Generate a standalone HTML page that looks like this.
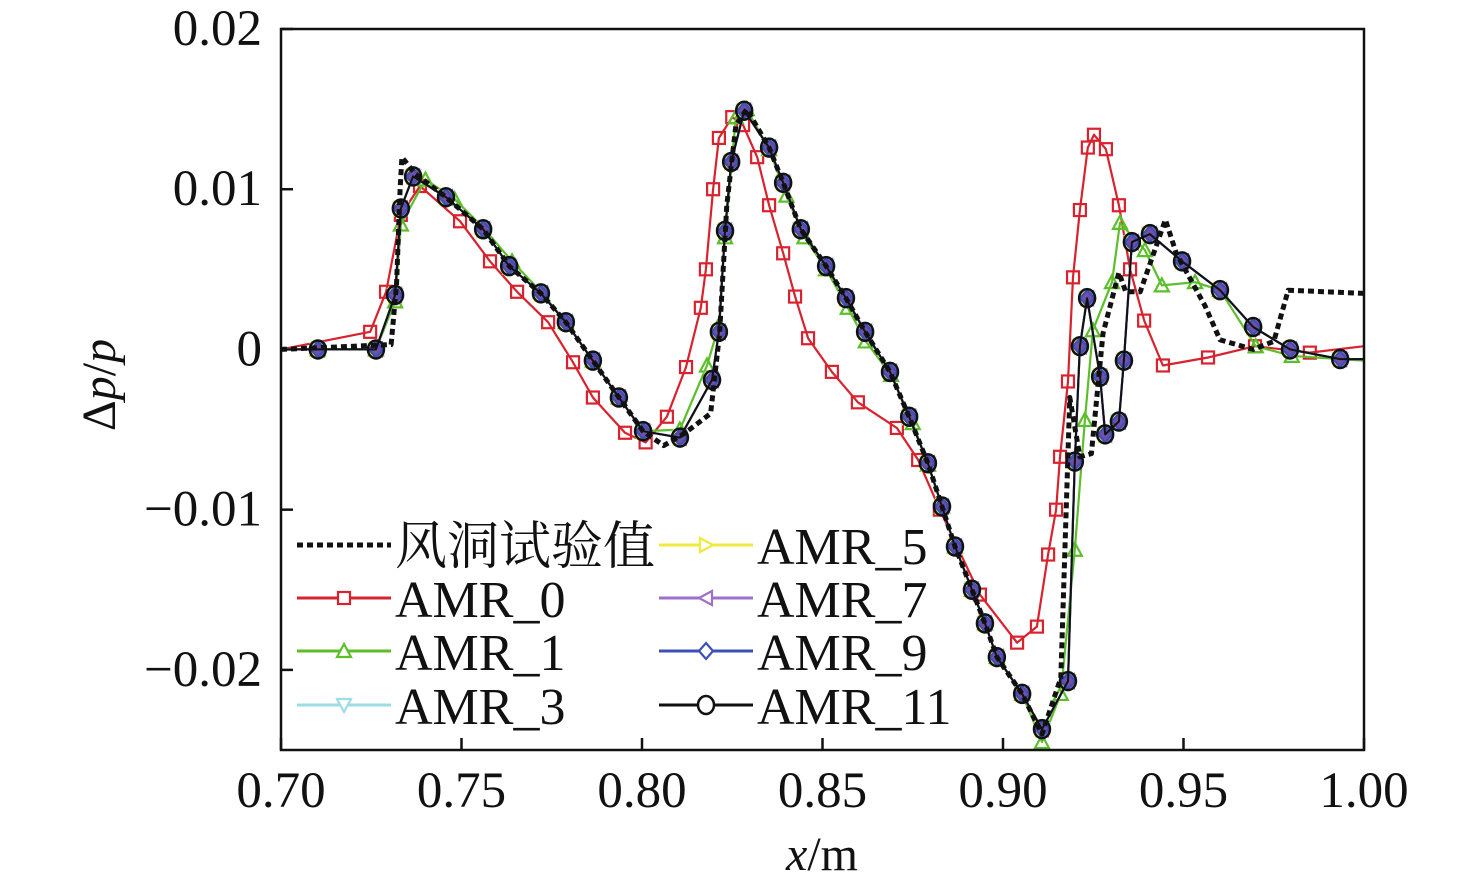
<!DOCTYPE html>
<html><head><meta charset="utf-8">
<style>
html,body{margin:0;padding:0;background:#fff;}
svg{display:block;}
text{font-family:"Liberation Serif","Noto Serif CJK SC",serif;fill:#111;}
</style></head>
<body>
<svg id="chart" width="1476" height="887" viewBox="0 0 1476 887" xmlns="http://www.w3.org/2000/svg">
<g id="grid"></g>
<g id="series"></g>
<rect x="281" y="29" width="1083" height="721" fill="none" stroke="#111" stroke-width="2.5"/>
<g id="legend"></g>
<text transform="translate(115,385) rotate(-90)" text-anchor="middle" font-size="48">Δ<tspan font-style="italic">p</tspan>/<tspan font-style="italic">p</tspan></text>
<text x="822" y="870" text-anchor="middle" font-size="48"><tspan font-style="italic">x</tspan>/m</text>
</svg>
<script>
const xTicks=[0.70,0.75,0.80,0.85,0.90,0.95,1.00];
const xTickLabels=["0.70","0.75","0.80","0.85","0.90","0.95","1.00"];
const yTicks=[0.02,0.01,0,-0.01,-0.02];
const yTickLabels=["0.02","0.01","0","\u22120.01","\u22120.02"];
const expX=[0.70,0.7305,0.7320,0.7330,0.7335,0.7370,0.7457,0.7560,0.7632,0.7720,0.7789,0.7864,0.7936,0.8003,0.806,0.8120,0.8190,0.8215,0.8235,0.8260,0.8290,0.8352,0.8391,0.8440,0.8510,0.8565,0.8618,0.8687,0.8740,0.8792,0.8831,0.8867,0.8914,0.8950,0.8983,0.9053,0.9108,0.9160,0.9185,0.9213,0.9245,0.9277,0.9321,0.9340,0.9380,0.9450,0.9480,0.9560,0.9601,0.9693,0.9750,0.9790,1.00];
const expY=[0,0.0003,0.0040,0.0100,0.0120,0.0110,0.0095,0.0075,0.0052,0.0035,0.0017,-0.0007,-0.0030,-0.0051,-0.0060,-0.0052,-0.0040,0.0010,0.0090,0.0140,0.0150,0.0126,0.0104,0.0075,0.0052,0.0032,0.0011,-0.0014,-0.0042,-0.0071,-0.0098,-0.0123,-0.0150,-0.0171,-0.0192,-0.0215,-0.0240,-0.0205,-0.0030,-0.0067,-0.0065,0.0010,0.0048,0.0036,0.0036,0.0081,0.0060,0.0027,0.0006,0.0000,0.0005,0.0037,0.0035];
const amr0X=[0.70,0.7247,0.7291,0.7332,0.7385,0.7496,0.7579,0.7654,0.7740,0.7809,0.7864,0.7953,0.8010,0.8069,0.8122,0.8163,0.8177,0.8197,0.8213,0.8250,0.8280,0.8319,0.8352,0.8391,0.8424,0.8460,0.8526,0.8598,0.8706,0.8765,0.8825,0.8936,0.9039,0.9094,0.9125,0.9147,0.9158,0.9180,0.9194,0.9213,0.9235,0.9252,0.9285,0.9321,0.9352,0.9391,0.9443,0.9568,0.9698,0.9850,1.00];
const amr0Y=[0,0.0011,0.0036,0.0084,0.0102,0.0080,0.0055,0.0036,0.0017,-0.0008,-0.0030,-0.0052,-0.0058,-0.0042,-0.0011,0.0026,0.0050,0.0100,0.0132,0.0145,0.0140,0.0120,0.0090,0.0060,0.0033,0.0007,-0.0014,-0.0033,-0.0049,-0.0069,-0.0100,-0.0153,-0.0183,-0.0173,-0.0128,-0.0100,-0.0067,-0.0020,0.0045,0.0087,0.0126,0.0134,0.0125,0.0090,0.0050,0.0018,-0.0010,-0.0005,0.0002,-0.0002,0.0002];
const amr1X=[0.70,0.7102,0.7263,0.7316,0.7332,0.7400,0.7480,0.7560,0.7640,0.7720,0.7789,0.7864,0.7936,0.8003,0.8105,0.8180,0.8213,0.8230,0.8260,0.8290,0.8352,0.8400,0.8450,0.8510,0.8570,0.8620,0.8690,0.8750,0.8792,0.8831,0.8867,0.8914,0.8950,0.8983,0.9053,0.9108,0.9160,0.9199,0.9227,0.9249,0.9302,0.9324,0.9393,0.9440,0.9532,0.9601,0.9700,0.9800,1.00];
const amr1Y=[0,0,0,0.0030,0.0078,0.0106,0.0094,0.0076,0.0055,0.0036,0.0017,-0.0007,-0.0030,-0.0051,-0.0050,-0.0010,0.0015,0.0070,0.0145,0.0150,0.0125,0.0096,0.0070,0.0050,0.0026,0.0005,-0.0016,-0.0046,-0.0072,-0.0098,-0.0123,-0.0150,-0.0171,-0.0192,-0.0215,-0.0245,-0.0215,-0.0125,-0.0044,0.0012,0.0042,0.0079,0.0062,0.0040,0.0042,0.0037,0.0002,-0.0004,-0.0007];
const fineX=[0.70,0.7102,0.7263,0.7316,0.7332,0.7366,0.7457,0.7560,0.7632,0.7720,0.7789,0.7864,0.7936,0.8003,0.8105,0.8194,0.8213,0.8230,0.8247,0.8283,0.8352,0.8391,0.8440,0.8510,0.8565,0.8618,0.8687,0.8740,0.8792,0.8831,0.8867,0.8914,0.8950,0.8983,0.9053,0.9108,0.9180,0.9199,0.9213,0.9233,0.9269,0.9283,0.9321,0.9335,0.9357,0.9407,0.9496,0.9601,0.9693,0.9795,0.9934,1.00];
const fineY=[0,0,0,0.0034,0.0088,0.0108,0.0095,0.0075,0.0052,0.0035,0.0017,-0.0007,-0.0030,-0.0051,-0.0055,-0.0019,0.0011,0.0074,0.0117,0.0149,0.0126,0.0104,0.0075,0.0052,0.0032,0.0011,-0.0014,-0.0042,-0.0071,-0.0098,-0.0123,-0.0150,-0.0171,-0.0192,-0.0215,-0.0237,-0.0207,-0.0070,0.0002,0.0032,-0.0017,-0.0053,-0.0045,-0.0007,0.0067,0.0072,0.0055,0.0037,0.0014,0,-0.0006,-0.0006];

const NS="http://www.w3.org/2000/svg";
const X0=281,X1=1364,Y0=29,Y1=750;
function sx(v){return X0+(v-0.70)/0.30*(X1-X0);}
function sy(v){return Y0+(0.02-v)/0.045*(Y1-Y0);}
function mk(tag,attrs,parent){const e=document.createElementNS(NS,tag);for(const k in attrs)e.setAttribute(k,attrs[k]);parent.appendChild(e);return e;}

const grid=document.getElementById('grid');
xTicks.forEach((t,i)=>{
  const l=mk('line',{x1:sx(t),x2:sx(t),y1:Y1,y2:Y1-12,stroke:'#111','stroke-width':2.5},grid);
  
  
  const tx=mk('text',{x:sx(t),y:807,'text-anchor':'middle','font-size':51},grid);
  tx.textContent=xTickLabels[i];
  
  
});
yTicks.forEach((t,i)=>{
  const l=mk('line',{x1:X0,x2:X0+12,y1:sy(t),y2:sy(t),stroke:'#111','stroke-width':2.5},grid);
  
  
  const tx=mk('text',{x:262,y:sy(t)+16,'text-anchor':'end','font-size':51},grid);
  tx.textContent=yTickLabels[i];
  
  
});

const S=document.getElementById('series');
function marker(type,cx,cy,color,parent,fill){
  fill=fill||'none';let e;
  if(type==='sq') e=mk('rect',{x:cx-6,y:cy-6,width:12,height:12,fill:fill,stroke:color,'stroke-width':2.2},parent);
  else if(type==='up') e=mk('polygon',{points:`${cx},${cy-7} ${cx-7},${cy+6} ${cx+7},${cy+6}`,fill:fill,stroke:color,'stroke-width':2.2},parent);
  else if(type==='down') e=mk('polygon',{points:`${cx},${cy+7} ${cx-7},${cy-6} ${cx+7},${cy-6}`,fill:fill,stroke:color,'stroke-width':2.2},parent);
  else if(type==='right') e=mk('polygon',{points:`${cx+7},${cy} ${cx-6},${cy-7} ${cx-6},${cy+7}`,fill:fill,stroke:color,'stroke-width':2.2},parent);
  else if(type==='left') e=mk('polygon',{points:`${cx-7},${cy} ${cx+6},${cy-7} ${cx+6},${cy+7}`,fill:fill,stroke:color,'stroke-width':2.2},parent);
  else if(type==='dia') e=mk('polygon',{points:`${cx},${cy-8} ${cx+7},${cy} ${cx},${cy+8} ${cx-7},${cy}`,fill:fill,stroke:color,'stroke-width':2.2},parent);
  else e=mk('ellipse',{cx:cx,cy:cy,rx:8,ry:9,fill:fill,stroke:color,'stroke-width':2.5},parent);
  return e;
}
function drawSeries(name,xs,ys,color,width,dash,mtype,mfill){
  const g=mk('g',{},S);
  
  
  const d=xs.map((x,i)=>(i?'L':'M')+sx(x).toFixed(1)+','+sy(ys[i]).toFixed(1)).join(' ');
  const p=mk('path',{d:d,fill:'none',stroke:color,'stroke-width':width,'stroke-linejoin':'round'},g);
  if(dash)p.setAttribute('stroke-dasharray',dash);
  
  
  if(mtype){xs.forEach((x,i)=>{
    if(i===0||i===xs.length-1)return;
    const m=marker(mtype,sx(x),sy(ys[i]),color,g,mfill);
    
    
  });}
}
drawSeries('amr-0-series',amr0X,amr0Y,'#d8232e',2.2,null,'sq','none');
drawSeries('amr-1-series',amr1X,amr1Y,'#5cbf2a',2.2,null,'up','none');
drawSeries('amr-3-series',fineX,fineY,'#9fdde6',2.2,null,'down','none');
drawSeries('amr-5-series',fineX,fineY,'#f0ea3c',2.2,null,'right','none');
drawSeries('amr-7-series',fineX,fineY,'#a070c8',2.2,null,'left','#8c5cc0');
drawSeries('amr-9-series',fineX,fineY,'#3a50b8',2.2,null,'dia','#7050a8');
drawSeries('wind-tunnel-series',expX,expY,'#111',5,'6,4',null);
drawSeries('amr-11-series',fineX,fineY,'#111',2,null,'circ','none');

const L=document.getElementById('legend');
const entries=[
 ['legend-wind-tunnel','风洞试验值','#111',null,297,545,true],
 ['legend-amr-0','AMR_0','#d8232e','sq',297,598],
 ['legend-amr-1','AMR_1','#5cbf2a','up',297,651],
 ['legend-amr-3','AMR_3','#9fdde6','down',297,705],
 ['legend-amr-5','AMR_5','#f0ea3c','right',659,545],
 ['legend-amr-7','AMR_7','#a070c8','left',659,598],
 ['legend-amr-9','AMR_9','#3a50b8','dia',659,651],
 ['legend-amr-11','AMR_11','#111','circ',659,705]
];
entries.forEach(e=>{
  const g=mk('g',{},L);
  
  
  const ln=mk('line',{x1:e[4],x2:e[4]+94,y1:e[5],y2:e[5],stroke:e[2],'stroke-width':e[6]?5:3},g);
  if(e[6])ln.setAttribute('stroke-dasharray','6,4');
  if(e[3])marker(e[3],e[4]+47,e[5],e[2],g,'#fff');
  const t=mk('text',{x:e[4]+98,y:e[5]+19,'font-size':52},g);
  t.textContent=e[1];
});
</script>
</body></html>
